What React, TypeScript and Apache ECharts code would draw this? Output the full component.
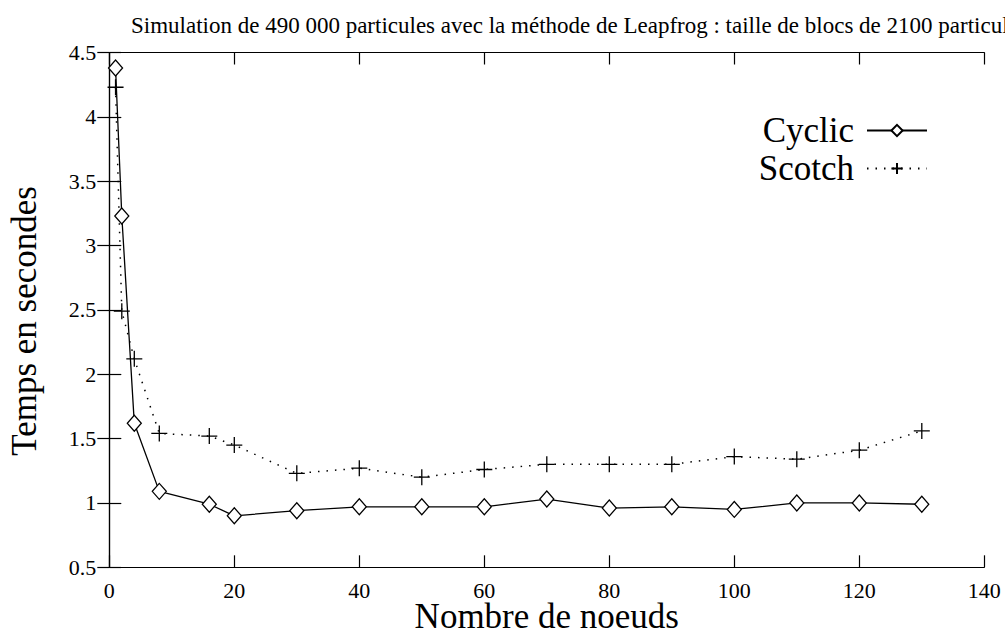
import React, { useEffect, useRef } from "react";
import * as echarts from "echarts";

const nodes = [1, 2, 4, 8, 16, 20, 30, 40, 50, 60, 70, 80, 90, 100, 110, 120, 130];
const cyclic = [4.38, 3.23, 1.62, 1.09, 0.99, 0.9, 0.94, 0.97, 0.97, 0.97, 1.03, 0.96, 0.97, 0.95, 1.0, 1.0, 0.99];
const scotch = [4.23, 2.49, 2.12, 1.54, 1.52, 1.45, 1.23, 1.27, 1.2, 1.26, 1.3, 1.3, 1.3, 1.36, 1.34, 1.41, 1.56];
const titleText = "Simulation de 490 000 particules avec la méthode de Leapfrog : taille de blocs de 2100 particules";
const xName = "Nombre de noeuds";
const yName = "Temps en secondes";

const FONT = "'Liberation Serif', 'Times New Roman', serif";
const plus = "path://M0,8L16,8M8,0L8,16";

export default function App() {
  const ref = useRef<HTMLDivElement>(null);
  useEffect(() => {
    const chart = echarts.init(ref.current!, null, { renderer: "svg" });
    const axisLine = { show: true, lineStyle: { color: "#000", width: 1.2 } };
    const tick = { show: true, inside: true, length: 12, lineStyle: { color: "#000", width: 1.2 } };
    chart.setOption({
      animation: false,
      backgroundColor: "#fff",
      title: {
        text: titleText,
        left: 126,
        top: 9,
        textStyle: { fontFamily: FONT, fontSize: 23, fontWeight: "normal", color: "#000" },
      },
      legend: {
        orient: "vertical",
        align: "right",
        right: 72,
        top: 108,
        itemWidth: 60,
        itemHeight: 14,
        itemGap: 3,
        textStyle: { fontFamily: FONT, fontSize: 35, color: "#000", padding: [0, 8, 0, 0] },
        data: ["Cyclic", "Scotch"],
      },
      grid: {
        left: 109.3,
        right: 20.7,
        top: 52.5,
        bottom: 66.7,
        containLabel: false,
        outerBoundsMode: "none",
      },
      xAxis: [
        {
          type: "value",
          min: 0,
          max: 140,
          interval: 20,
          position: "bottom",
          axisLine,
          axisTick: tick,
          splitLine: { show: false },
          axisLabel: { fontFamily: FONT, fontSize: 22, color: "#000", margin: 12 },
          name: xName,
          nameLocation: "middle",
          nameGap: 32,
          nameMoveOverlap: false,
          nameTextStyle: { fontFamily: FONT, fontSize: 35, color: "#000" },
        },
        {
          type: "value",
          min: 0,
          max: 140,
          interval: 20,
          position: "top",
          axisLine,
          axisTick: tick,
          splitLine: { show: false },
          axisLabel: { show: false },
        },
      ],
      yAxis: [
        {
          type: "value",
          min: 0.5,
          max: 4.5,
          interval: 0.5,
          position: "left",
          axisLine,
          axisTick: tick,
          splitLine: { show: false },
          axisLabel: { fontFamily: FONT, fontSize: 22, color: "#000", margin: 13 },
          name: yName,
          nameLocation: "middle",
          nameGap: 67,
          nameMoveOverlap: false,
          nameTextStyle: { fontFamily: FONT, fontSize: 35, color: "#000", padding: [0, 22, 0, 0] },
        },
        {
          type: "value",
          min: 0.5,
          max: 4.5,
          interval: 0.5,
          position: "right",
          axisLine,
          axisTick: tick,
          splitLine: { show: false },
          axisLabel: { show: false },
        },
      ],
      series: [
        {
          name: "Cyclic",
          type: "line",
          data: nodes.map((n, i) => [n, cyclic[i]]),
          symbol: "diamond",
          symbolSize: [14, 16],
          showAllSymbol: true,
          itemStyle: { color: "#fff", borderColor: "#000", borderWidth: 1.3 },
          lineStyle: { color: "#000", width: 1.3 },
        },
        {
          name: "Scotch",
          type: "line",
          data: nodes.map((n, i) => [n, scotch[i]]),
          symbol: plus,
          symbolSize: 16,
          showAllSymbol: true,
          itemStyle: { color: "#000", borderColor: "#000", borderWidth: 1.3 },
          lineStyle: { color: "#000", width: 1.5, type: [1.5, 7] },
        },
      ],
    });
    return () => chart.dispose();
  }, []);
  return (
    <div
      ref={ref}
      style={{ position: "fixed", left: 0, top: 0, width: 1005, height: 634, background: "#fff" }}
    />
  );
}
